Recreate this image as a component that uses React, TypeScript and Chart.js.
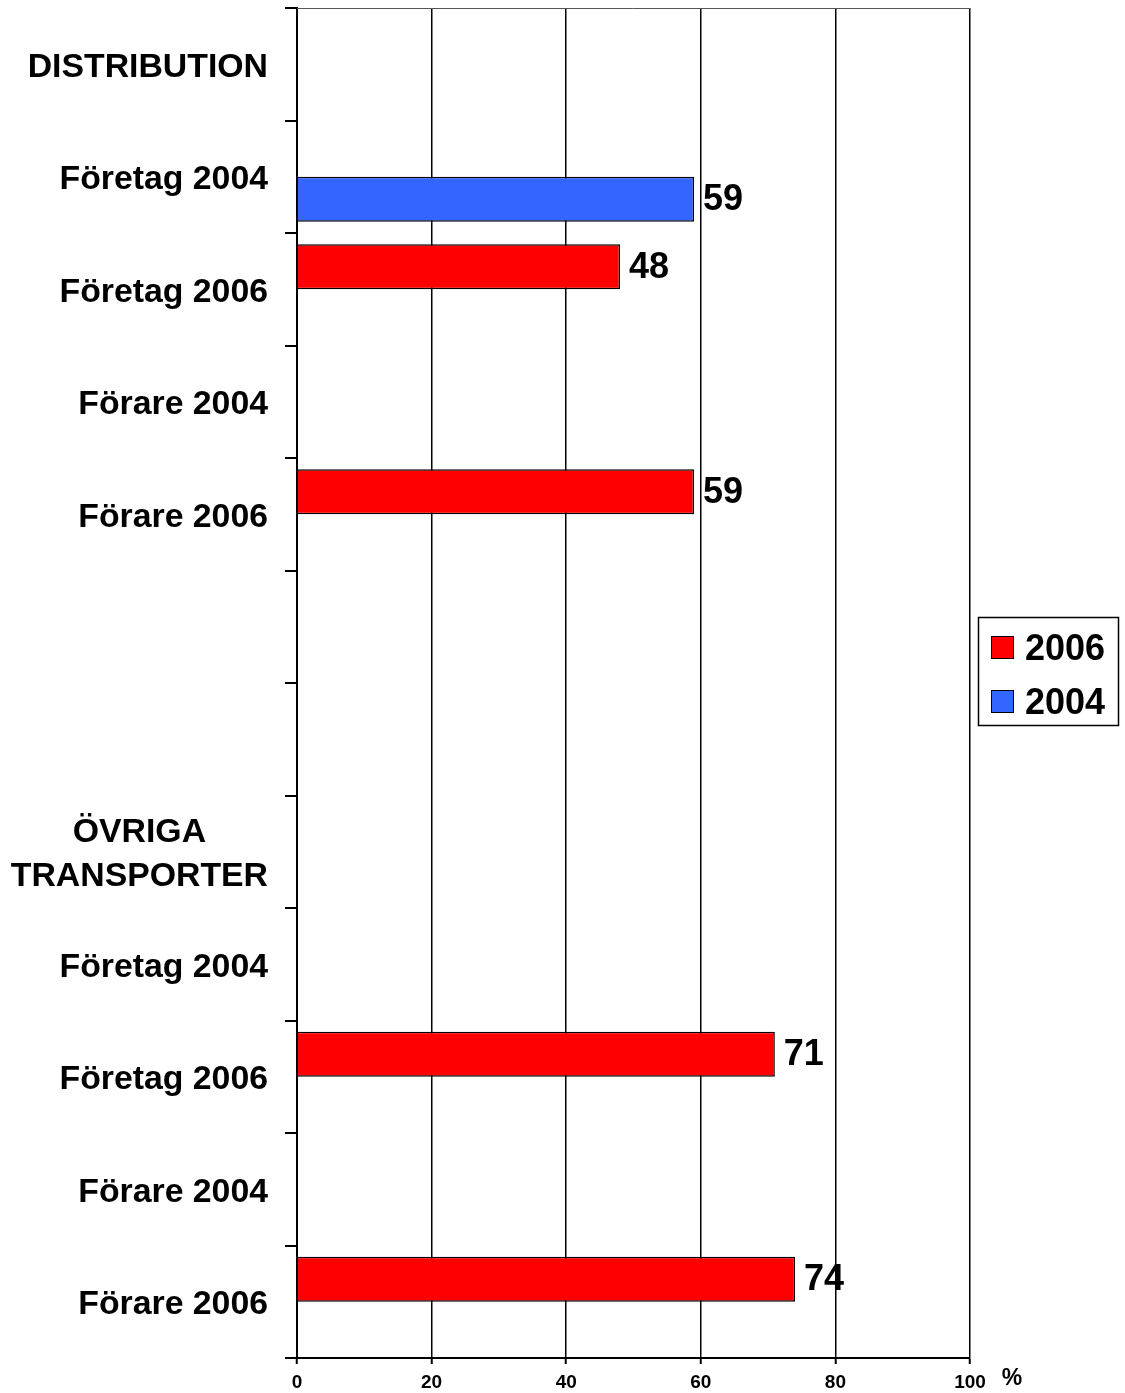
import React, { useEffect, useRef } from "react";
import { Chart, registerables } from "chart.js";

Chart.register(...registerables);

const categories: (string | string[])[] = [
  "DISTRIBUTION",
  "Företag 2004",
  "Företag 2006",
  "Förare 2004",
  "Förare 2006",
  "",
  "",
  ["ÖVRIGA", "TRANSPORTER"],
  "Företag 2004",
  "Företag 2006",
  "Förare 2004",
  "Förare 2006",
];

const series2006: (number | null)[] = [null, null, 48, null, 59, null, null, null, null, 71, null, 74];
const series2004: (number | null)[] = [null, 59, null, null, null, null, null, null, null, null, null, null];

const seriesLabels = ["2006", "2004"];
const seriesColors = ["#FF0000", "#3366FF"];

const xTicks = [0, 20, 40, 60, 80, 100];
const xUnit = "%";

const FONT = "'Liberation Sans', Arial, sans-serif";

const yLabelPlugin = {
  id: "yLabels",
  afterDraw(chart: any) {
    const ctx = chart.ctx;
    const y = chart.scales.y;
    const labels = chart.data.labels as (string | string[])[];
    ctx.save();
    ctx.fillStyle = "#000";
    ctx.font = `bold 33.8px ${FONT}`;
    ctx.textBaseline = "middle";
    const right = y.right - 29;
    labels.forEach((lab, i) => {
      const py = y.getPixelForValue(i) + 3;
      if (Array.isArray(lab)) {
        const w = Math.max(...lab.map((l) => ctx.measureText(l).width));
        const cx = right - w / 2;
        const lh = 44;
        const start = py - ((lab.length - 1) * lh) / 2;
        ctx.textAlign = "center";
        lab.forEach((l, k) => ctx.fillText(l, cx, start + k * lh));
      } else if (lab) {
        ctx.textAlign = "right";
        ctx.fillText(lab, right, py);
      }
    });
    ctx.restore();
  },
};

const valueLabelPlugin = {
  id: "valueLabels",
  afterDatasetsDraw(chart: any) {
    const ctx = chart.ctx;
    ctx.save();
    ctx.fillStyle = "#000";
    ctx.font = `bold 36px ${FONT}`;
    ctx.textBaseline = "middle";
    ctx.textAlign = "left";
    chart.data.datasets.forEach((ds: any, di: number) => {
      const meta = chart.getDatasetMeta(di);
      meta.data.forEach((el: any, i: number) => {
        const v = ds.data[i];
        if (v === null || v === undefined) return;
        ctx.fillText(String(v), el.x + 9, el.y + 1);
      });
    });
    ctx.restore();
  },
};

const framePlugin = {
  id: "frame",
  afterDraw(chart: any) {
    const ctx = chart.ctx;
    const a = chart.chartArea;
    ctx.save();
    // top border
    ctx.strokeStyle = "#555";
    ctx.lineWidth = 1;
    ctx.beginPath();
    ctx.moveTo(a.left, a.top + 0.5);
    ctx.lineTo(a.right, a.top + 0.5);
    ctx.stroke();
    // unit
    ctx.fillStyle = "#000";
    ctx.font = `bold 23px ${FONT}`;
    ctx.textAlign = "center";
    ctx.textBaseline = "middle";
    ctx.fillText(xUnit, a.right + 42, a.bottom + 21);
    // legend
    const lx = a.right + 8;
    const lw = 140;
    const lh = 108;
    const ly = 617;
    ctx.fillStyle = "#fff";
    ctx.fillRect(lx, ly, lw, lh);
    ctx.strokeStyle = "#000";
    ctx.lineWidth = 1.5;
    ctx.strokeRect(lx + 0.5, ly + 0.5, lw, lh);
    ctx.font = `bold 36px ${FONT}`;
    ctx.textAlign = "left";
    chart.data.datasets.forEach((ds: any, i: number) => {
      const cy = ly + 30 + i * 54;
      ctx.fillStyle = ds.backgroundColor;
      ctx.fillRect(lx + 13, cy - 11, 23, 23);
      ctx.strokeStyle = "#000";
      ctx.lineWidth = 1;
      ctx.strokeRect(lx + 13.5, cy - 10.5, 22, 22);
      ctx.fillStyle = "#000";
      ctx.fillText(ds.label, lx + 47, cy + 3);
    });
    ctx.restore();
  },
};

export default function App() {
  const ref = useRef<HTMLCanvasElement | null>(null);
  useEffect(() => {
    if (!ref.current) return;
    const chart = new Chart(ref.current, {
      type: "bar",
      data: {
        labels: categories as any,
        datasets: [
          {
            label: seriesLabels[0],
            data: series2006,
            backgroundColor: seriesColors[0],
            borderColor: "#000",
            borderWidth: 1.5,
            categoryPercentage: 0.8,
            barPercentage: 1.0,
          },
          {
            label: seriesLabels[1],
            data: series2004,
            backgroundColor: seriesColors[1],
            borderColor: "#000",
            borderWidth: 1.5,
            categoryPercentage: 0.8,
            barPercentage: 1.0,
          },
        ],
      },
      options: {
        indexAxis: "y",
        responsive: false,
        animation: false,
        devicePixelRatio: 1,
        layout: { padding: { top: 8, left: 0, right: 155, bottom: 0 } },
        plugins: {
          legend: { display: false },
          tooltip: { enabled: false },
        },
        scales: {
          x: {
            min: xTicks[0],
            max: xTicks[xTicks.length - 1],
            afterBuildTicks: (scale: any) => {
              scale.ticks = xTicks.map((v) => ({ value: v }));
            },
            afterFit: (scale: any) => {
              scale.height = 35;
            },
            ticks: {
              color: "#000",
              font: { family: FONT, size: 19, weight: "bold" },
              padding: 7,
              maxRotation: 0,
            },
            grid: {
              color: "#000",
              lineWidth: 1.5,
              drawTicks: true,
              tickLength: 6,
              tickColor: "#000",
              tickWidth: 2,
            },
            border: { display: true, color: "#000", width: 2 },
          },
          y: {
            afterFit: (scale: any) => {
              scale.width = 297;
            },
            ticks: { display: false },
            grid: {
              drawOnChartArea: false,
              drawTicks: true,
              tickLength: 12,
              color: "#000",
              lineWidth: 2,
            },
            border: { display: true, color: "#000", width: 2 },
          },
        },
      },
      plugins: [yLabelPlugin, valueLabelPlugin, framePlugin],
    } as any);
    return () => chart.destroy();
  }, []);
  return (
    <div style={{ position: "absolute", left: 0, top: 0, width: 1125, height: 1393, background: "#fff" }}>
      <canvas ref={ref} width={1125} height={1393} style={{ width: 1125, height: 1393, display: "block" }} />
    </div>
  );
}
